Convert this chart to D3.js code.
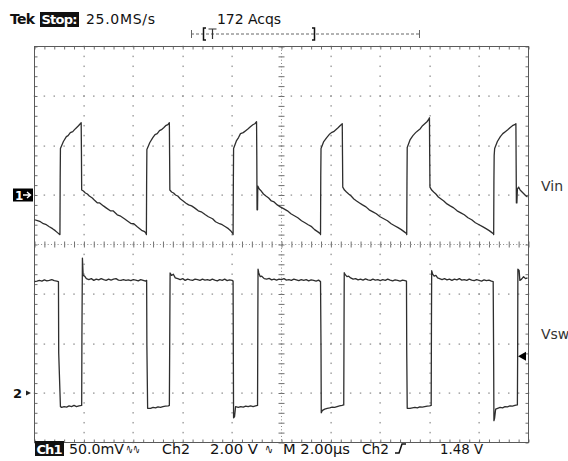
<!DOCTYPE html>
<html>
<head>
<meta charset="utf-8">
<script src="https://cdn.jsdelivr.net/npm/d3@7/dist/d3.min.js"></script>
<style>
  body { margin: 0; background: #fff; }
  svg { display: block; }
  text { font-family: "DejaVu Sans", sans-serif; }
</style>
</head>
<body>
<svg id="scope" width="568" height="461"></svg>
<script>
// ---- Acquisition settings -------------------------------------------------
const timePerDiv = 2;          // µs per horizontal division
const ch1PerDiv = 50;          // mV per division (Vin)
const ch2PerDiv = 2;           // V per division (Vsw)
const ch1Offset = 1;           // ch1 ground, divisions above centre
const ch2Offset = -3;          // ch2 ground, divisions above centre
const triggerLevel = 1.48;     // V on ch2

// ---- Readout texts ---------------------------------------------------------
const topReadout = ["Tek", "Stop:", "25.0MS/s", "172 Acqs"];
const bottomReadout = ["Ch1", "50.0mV", "∿∿", "Ch2", "2.00 V", "∿", "M 2.00µs", "Ch2", "1.48 V"];
const traceLabels = ["Vin", "Vsw"];

// ---- Ch1 : Vin [time µs, mV] -----------------------------------------------
const vinTrace = [
  [0.00,-25],[0.12,-26],[0.24,-27],[0.36,-29],[0.48,-30],[0.60,-32],[0.73,-34],[0.84,-36],[0.93,-38],[1.02,-40],
  [1.03,-40],[1.04,18],[1.05,47],[1.17,54],[1.29,59],[1.36,60],[1.45,63],[1.55,64],[1.62,66],[1.70,68],[1.78,70],[1.89,73],
  [1.90,45],[1.91,5],[1.98,4],[2.06,2],[2.14,1],[2.22,-1],[2.34,-3],[2.42,-5],[2.55,-8],[2.64,-8],[2.79,-11],[2.90,-13],
  [3.07,-16],[3.18,-16],[3.35,-20],[3.46,-21],[3.64,-24],[3.75,-26],[3.92,-29],[4.02,-29],[4.16,-32],[4.26,-34],[4.36,-36],[4.46,-37],[4.52,-39],
  [4.53,-40],[4.54,15],[4.55,46],[4.67,53],[4.79,58],[4.88,61],[4.97,62],[5.06,65],[5.14,66],[5.23,68],[5.31,70],[5.40,71],[5.46,73],
  [5.47,40],[5.48,5],[5.55,3],[5.63,2],[5.71,0],[5.80,-1],[5.91,-4],[6.02,-6],[6.12,-8],[6.24,-10],[6.36,-11],[6.48,-13],[6.63,-16],
  [6.75,-17],[6.92,-20],[7.04,-22],[7.21,-24],[7.33,-27],[7.49,-29],[7.60,-30],[7.73,-32],[7.85,-34],[7.94,-36],[8.03,-39],
  [8.04,-40],[8.05,10],[8.06,47],[8.18,55],[8.26,58],[8.34,62],[8.45,63],[8.55,65],[8.65,67],[8.74,69],[8.84,71],[8.92,72],[8.99,74],
  [9.00,40],[9.01,-15],[9.03,-15],[9.04,9],[9.10,6],[9.18,4],[9.27,1],[9.37,-1],[9.48,-3],[9.59,-6],[9.70,-7],[9.83,-10],[9.95,-12],
  [10.10,-14],[10.24,-16],[10.38,-19],[10.52,-21],[10.66,-23],[10.81,-26],[10.95,-28],[11.08,-30],[11.22,-32],[11.34,-35],[11.46,-37],[11.57,-39],
  [11.58,-40],[11.59,20],[11.60,47],[11.71,54],[11.83,58],[11.93,61],[12.02,63],[12.11,64],[12.20,66],[12.29,68],[12.37,70],[12.46,72],
  [12.47,40],[12.48,8],[12.55,5],[12.63,3],[12.72,1],[12.82,-1],[12.93,-4],[13.04,-6],[13.16,-8],[13.28,-10],[13.42,-12],[13.55,-15],
  [13.70,-17],[13.84,-19],[13.99,-22],[14.14,-24],[14.29,-26],[14.44,-29],[14.58,-31],[14.72,-33],[14.85,-35],[14.96,-37],[15.06,-39],
  [15.07,-40],[15.08,14],[15.09,48],[15.21,56],[15.32,60],[15.43,63],[15.52,65],[15.62,67],[15.71,70],[15.80,72],[15.89,74],[15.95,76],[15.99,78],
  [16.00,40],[16.01,8],[16.08,5],[16.16,3],[16.25,1],[16.35,-2],[16.46,-4],[16.57,-6],[16.70,-9],[16.83,-11],[16.97,-13],[17.11,-16],
  [17.26,-18],[17.40,-20],[17.55,-23],[17.70,-25],[17.85,-28],[18.00,-30],[18.14,-32],[18.28,-34],[18.41,-36],[18.52,-38],[18.58,-39],
  [18.59,-40],[18.60,15],[18.61,40],[18.63,47],[18.74,54],[18.86,59],[18.96,62],[19.06,64],[19.16,66],[19.25,68],[19.35,70],[19.44,71],[19.49,72],
  [19.50,30],[19.51,-8],[19.53,-8],[19.55,6],[19.60,8],[19.66,5],[19.74,3],[19.82,1],[19.90,-1],[19.96,-2]
];

// ---- Ch2 : Vsw [time µs, V] ------------------------------------------------
const vswTrace = [
  [0.00,4.50],[0.10,4.52],[0.20,4.55],[0.30,4.52],[0.40,4.57],[0.50,4.53],[0.60,4.55],[0.70,4.58],[0.80,4.54],[0.90,4.52],[0.97,4.50],
  [0.98,1.62],[1.05,-0.55],[1.10,-0.58],[1.20,-0.55],[1.30,-0.57],[1.40,-0.52],[1.50,-0.55],[1.60,-0.50],[1.70,-0.55],[1.80,-0.52],[1.91,-0.50],
  [1.92,2.30],[1.94,5.45],[1.97,4.75],[2.03,4.72],[2.10,4.62],[2.20,4.58],[2.30,4.62],[2.40,4.55],[2.50,4.60],[2.60,4.57],[2.70,4.62],
  [2.80,4.58],[2.90,4.55],[3.00,4.60],[3.10,4.56],[3.20,4.60],[3.30,4.62],[3.40,4.56],[3.50,4.55],[3.60,4.58],[3.70,4.55],[3.80,4.57],
  [3.90,4.54],[4.00,4.58],[4.10,4.56],[4.20,4.53],[4.30,4.58],[4.40,4.55],[4.50,4.52],[4.54,4.55],
  [4.55,1.90],[4.58,-0.62],[4.70,-0.62],[4.80,-0.58],[4.90,-0.60],[5.00,-0.56],[5.10,-0.58],[5.20,-0.55],[5.30,-0.53],[5.42,-0.52],[5.46,-0.50],
  [5.475,2.20],[5.49,4.85],[5.55,4.75],[5.62,4.80],[5.70,4.65],[5.80,4.62],[5.90,4.58],[6.00,4.62],[6.10,4.55],[6.20,4.60],[6.30,4.57],
  [6.40,4.55],[6.50,4.60],[6.60,4.58],[6.70,4.55],[6.80,4.60],[6.90,4.56],[7.00,4.58],[7.10,4.55],[7.20,4.60],[7.30,4.56],[7.40,4.53],
  [7.50,4.58],[7.60,4.55],[7.70,4.60],[7.80,4.54],[7.90,4.57],[8.00,4.55],[8.04,4.52],
  [8.05,1.50],[8.06,-1.00],[8.10,-0.95],[8.14,-0.55],[8.25,-0.58],[8.35,-0.55],[8.45,-0.57],[8.55,-0.53],[8.65,-0.55],[8.75,-0.52],[8.85,-0.55],[8.95,-0.52],[9.03,-0.50],
  [9.04,2.40],[9.05,5.00],[9.08,4.85],[9.14,4.70],[9.20,4.72],[9.30,4.62],[9.40,4.60],[9.50,4.63],[9.60,4.57],[9.70,4.60],[9.80,4.56],
  [9.90,4.60],[10.00,4.58],[10.10,4.62],[10.20,4.56],[10.30,4.58],[10.40,4.55],[10.50,4.60],[10.60,4.57],[10.70,4.54],[10.80,4.58],
  [10.90,4.55],[11.00,4.58],[11.10,4.53],[11.20,4.57],[11.30,4.55],[11.40,4.52],[11.50,4.56],[11.58,4.50],
  [11.60,1.80],[11.61,-0.80],[11.66,-0.70],[11.75,-0.65],[11.85,-0.62],[11.95,-0.60],[12.05,-0.57],[12.15,-0.58],[12.25,-0.55],[12.35,-0.52],[12.45,-0.50],[12.52,-0.48],
  [12.53,2.30],[12.54,4.86],[12.58,4.78],[12.65,4.70],[12.72,4.72],[12.80,4.65],[12.90,4.60],[13.00,4.62],[13.10,4.57],[13.20,4.60],
  [13.30,4.56],[13.40,4.61],[13.50,4.57],[13.60,4.55],[13.70,4.60],[13.80,4.56],[13.90,4.58],[14.00,4.54],[14.10,4.58],[14.20,4.55],
  [14.30,4.60],[14.40,4.56],[14.50,4.53],[14.60,4.57],[14.70,4.55],[14.80,4.52],[14.90,4.56],[15.00,4.54],[15.06,4.52],
  [15.07,1.70],[15.09,-0.62],[15.20,-0.62],[15.30,-0.60],[15.40,-0.58],[15.50,-0.60],[15.60,-0.56],[15.70,-0.57],[15.80,-0.55],[15.90,-0.53],[16.00,-0.52],[16.06,-0.50],
  [16.07,2.60],[16.08,4.94],[16.12,4.80],[16.18,4.72],[16.25,4.75],[16.32,4.65],[16.40,4.62],[16.50,4.58],[16.60,4.62],[16.70,4.57],
  [16.80,4.60],[16.90,4.55],[17.00,4.60],[17.10,4.57],[17.20,4.62],[17.30,4.56],[17.40,4.58],[17.50,4.55],[17.60,4.60],[17.70,4.56],
  [17.80,4.54],[17.90,4.58],[18.00,4.55],[18.10,4.52],[18.20,4.57],[18.30,4.54],[18.40,4.56],[18.50,4.52],[18.57,4.50],
  [18.59,1.20],[18.60,-1.12],[18.63,-1.00],[18.67,-0.65],[18.75,-0.62],[18.85,-0.58],[18.95,-0.60],[19.05,-0.55],[19.15,-0.56],[19.25,-0.52],[19.35,-0.53],[19.45,-0.50],[19.54,-0.48],
  [19.55,-0.48],[19.56,1.40],[19.57,5.00],[19.62,4.95],[19.65,4.55],[19.72,4.60],[19.80,4.70],[19.88,4.62],[19.96,4.65]
];

// ---- Layout ----------------------------------------------------------------
const svg = d3.select("#scope");
const gLeft = 34.5, gRight = 528.5, gTop = 46.5, gBottom = 442.5;
const hDivs = 10, vDivs = 8;

const x = d3.scaleLinear().domain([0, hDivs * timePerDiv]).range([gLeft, gRight]);
const yDiv = d3.scaleLinear().domain([-vDivs / 2, vDivs / 2]).range([gBottom, gTop]);
const y1 = d3.scaleLinear()
  .domain([(-vDivs / 2 - ch1Offset) * ch1PerDiv, (vDivs / 2 - ch1Offset) * ch1PerDiv])
  .range([gBottom, gTop]);
const y2 = d3.scaleLinear()
  .domain([(-vDivs / 2 - ch2Offset) * ch2PerDiv, (vDivs / 2 - ch2Offset) * ch2PerDiv])
  .range([gBottom, gTop]);

const gridColor = "#8a8a8a";
const majorX = d3.range(0, hDivs * timePerDiv + 1e-6, timePerDiv);
const minorX = d3.range(0, hDivs * timePerDiv + 1e-6, timePerDiv / 5);
const majorY = d3.range(-vDivs / 2, vDivs / 2 + 1e-6, 1);
const minorY = d3.range(-vDivs / 2, vDivs / 2 + 1e-6, 0.2);
const centreT = hDivs * timePerDiv / 2;

const grid = svg.append("g");

// dotted graticule lines (a dot at each minor division)
majorX.filter(t => t > 0 && t < hDivs * timePerDiv && t !== centreT).forEach(t => {
  grid.selectAll(null).data(minorY).enter().append("rect")
    .attr("x", Math.round(x(t)) - 0.5).attr("y", d => yDiv(d) - 0.75)
    .attr("width", 1.2).attr("height", 1.5).attr("fill", gridColor);
});
majorY.filter(d => d > -vDivs / 2 && d < vDivs / 2 && d !== 0).forEach(d0 => {
  grid.selectAll(null).data(minorX).enter().append("rect")
    .attr("x", d => x(d) - 0.75).attr("y", Math.round(yDiv(d0)) - 0.5)
    .attr("width", 1.5).attr("height", 1.2).attr("fill", gridColor);
});

// centre cross: fine dotted line plus minor ticks on both sides
grid.append("line").attr("x1", gLeft).attr("x2", gRight).attr("y1", yDiv(0)).attr("y2", yDiv(0))
  .attr("stroke", gridColor).attr("stroke-width", 1).attr("stroke-dasharray", "1,2.3");
grid.append("line").attr("x1", x(centreT)).attr("x2", x(centreT)).attr("y1", gTop).attr("y2", gBottom)
  .attr("stroke", gridColor).attr("stroke-width", 1).attr("stroke-dasharray", "1,2.3");

function styleAxis(g) {
  g.select(".domain").remove();
  g.selectAll("text").remove();
  g.selectAll(".tick line").attr("stroke", "#707070").attr("stroke-width", 1);
}
grid.append("g").attr("transform", `translate(0,${yDiv(0)})`)
  .call(d3.axisBottom(x).tickValues(minorX).tickSize(3)).call(styleAxis);
grid.append("g").attr("transform", `translate(0,${yDiv(0)})`)
  .call(d3.axisTop(x).tickValues(minorX).tickSize(3)).call(styleAxis);
grid.append("g").attr("transform", `translate(${x(centreT)},0)`)
  .call(d3.axisLeft(yDiv).tickValues(minorY).tickSize(3)).call(styleAxis);
grid.append("g").attr("transform", `translate(${x(centreT)},0)`)
  .call(d3.axisRight(yDiv).tickValues(minorY).tickSize(3)).call(styleAxis);

// frame edges with inward ticks
grid.append("g").attr("transform", `translate(0,${gTop})`)
  .call(d3.axisBottom(x).tickValues(minorX).tickSize(3)).call(styleAxis);
grid.append("g").attr("transform", `translate(0,${gBottom})`)
  .call(d3.axisTop(x).tickValues(minorX).tickSize(3)).call(styleAxis);
grid.append("g").attr("transform", `translate(${gLeft},0)`)
  .call(d3.axisRight(yDiv).tickValues(minorY).tickSize(3)).call(styleAxis);
grid.append("g").attr("transform", `translate(${gRight},0)`)
  .call(d3.axisLeft(yDiv).tickValues(minorY).tickSize(3)).call(styleAxis);

grid.append("rect").attr("x", gLeft).attr("y", gTop)
  .attr("width", gRight - gLeft).attr("height", gBottom - gTop)
  .attr("fill", "none").attr("stroke", "#5a5a5a").attr("stroke-width", 1);

// ---- Traces ----------------------------------------------------------------
const traceColor = "#2e2e2e";
svg.append("path").datum(vinTrace)
  .attr("d", d3.line().x(d => x(d[0])).y(d => y1(d[1])))
  .attr("fill", "none").attr("stroke", traceColor).attr("stroke-width", 1.3)
  .attr("stroke-linejoin", "round");
svg.append("path").datum(vswTrace)
  .attr("d", d3.line().x(d => x(d[0])).y(d => y2(d[1])))
  .attr("fill", "none").attr("stroke", traceColor).attr("stroke-width", 1.3)
  .attr("stroke-linejoin", "round");

// ---- Channel ground markers ------------------------------------------------
const g1 = y1(0), g2 = y2(0);
svg.append("rect").attr("x", 13).attr("y", g1 - 6.5).attr("width", 20).attr("height", 13).attr("fill", "#000");
svg.append("text").attr("x", 15).attr("y", g1 + 4.5).attr("fill", "#fff")
  .attr("font-size", 12).attr("font-weight", "bold").text("1");
svg.append("path").attr("d", `M23,${g1} H30 M27,${g1 - 3} L30.5,${g1} L27,${g1 + 3}`)
  .attr("stroke", "#fff").attr("stroke-width", 1.4).attr("fill", "none");

svg.append("text").attr("x", 13).attr("y", g2 + 5).attr("fill", "#111")
  .attr("font-size", 13).attr("font-weight", "bold").text("2");
svg.append("path").attr("d", `M26,${g2 - 2.5} L31,${g2} L26,${g2 + 2.5} Z`).attr("fill", "#222");

// trigger level arrow on the right edge
const gt = y2(triggerLevel);
svg.append("path").attr("d", `M518,${gt} L526,${gt - 4.5} L526,${gt + 4.5} Z`).attr("fill", "#000");

// trace labels
svg.append("text").attr("x", 541).attr("y", 191).attr("font-family", "'Liberation Serif', serif")
  .attr("font-size", 14).attr("fill", "#333").text(traceLabels[0]);
svg.append("text").attr("x", 541).attr("y", 339).attr("font-family", "'Liberation Serif', serif")
  .attr("font-size", 14).attr("fill", "#333").text(traceLabels[1]);

// ---- Top readout -----------------------------------------------------------
const topY = 24;
svg.append("text").attr("x", 10).attr("y", topY).attr("font-size", 14).attr("font-weight", "bold")
  .attr("textLength", 25).attr("fill", "#111").text(topReadout[0]);
svg.append("rect").attr("x", 40).attr("y", 12).attr("width", 39).attr("height", 15).attr("fill", "#111");
svg.append("text").attr("x", 41.5).attr("y", topY).attr("font-size", 13).attr("font-weight", "bold")
  .attr("textLength", 36).attr("fill", "#fff").text(topReadout[1]);
svg.append("text").attr("x", 86).attr("y", topY).attr("font-size", 14)
  .attr("textLength", 69).attr("fill", "#111").text(topReadout[2]);
svg.append("text").attr("x", 217).attr("y", topY).attr("font-size", 14)
  .attr("textLength", 64).attr("fill", "#111").text(topReadout[3]);

// record-length bar
const barY = 34;
svg.append("line").attr("x1", 191).attr("x2", 419).attr("y1", barY).attr("y2", barY)
  .attr("stroke", "#666").attr("stroke-dasharray", "3,2");
svg.append("path").attr("d", `M191.5,${barY - 4} V${barY + 4} M419.5,${barY - 4} V${barY + 4}`)
  .attr("stroke", "#666").attr("stroke-width", 1);
svg.append("path").attr("d", `M206,${barY - 6} H203.5 V${barY + 6} H206 M312,${barY - 6} H314.5 V${barY + 6} H312`)
  .attr("stroke", "#111").attr("stroke-width", 1.5).attr("fill", "none");
svg.append("path").attr("d", `M208.5,${barY - 5} H216.5 M212.5,${barY - 5} V${barY + 5}`)
  .attr("stroke", "#333").attr("stroke-width", 1.2).attr("fill", "none");

// ---- Bottom readout --------------------------------------------------------
const botY = 454;
svg.append("rect").attr("x", 35).attr("y", 441).attr("width", 29).attr("height", 15).attr("fill", "#111");
svg.append("text").attr("x", 36.5).attr("y", botY).attr("font-size", 13).attr("font-weight", "bold")
  .attr("textLength", 26).attr("fill", "#fff").text(bottomReadout[0]);
const botItems = [
  [bottomReadout[1], 69, 55], [bottomReadout[2], 126, 14], [bottomReadout[3], 162, 28],
  [bottomReadout[4], 210, 48], [bottomReadout[5], 265, 8], [bottomReadout[6], 283, 67],
  [bottomReadout[7], 362, 27], [bottomReadout[8], 440, 43]
];
botItems.forEach(([t, px, w]) => {
  svg.append("text").attr("x", px).attr("y", botY).attr("font-size", 14)
    .attr("textLength", w).attr("lengthAdjust", "spacingAndGlyphs").attr("fill", "#111").text(t);
});
// rising-edge trigger slope symbol
svg.append("path").attr("d", `M395,${botY - 1} H399 L402,${botY - 10} H406`)
  .attr("stroke", "#111").attr("stroke-width", 1.5).attr("fill", "none");
</script>
</body>
</html>
